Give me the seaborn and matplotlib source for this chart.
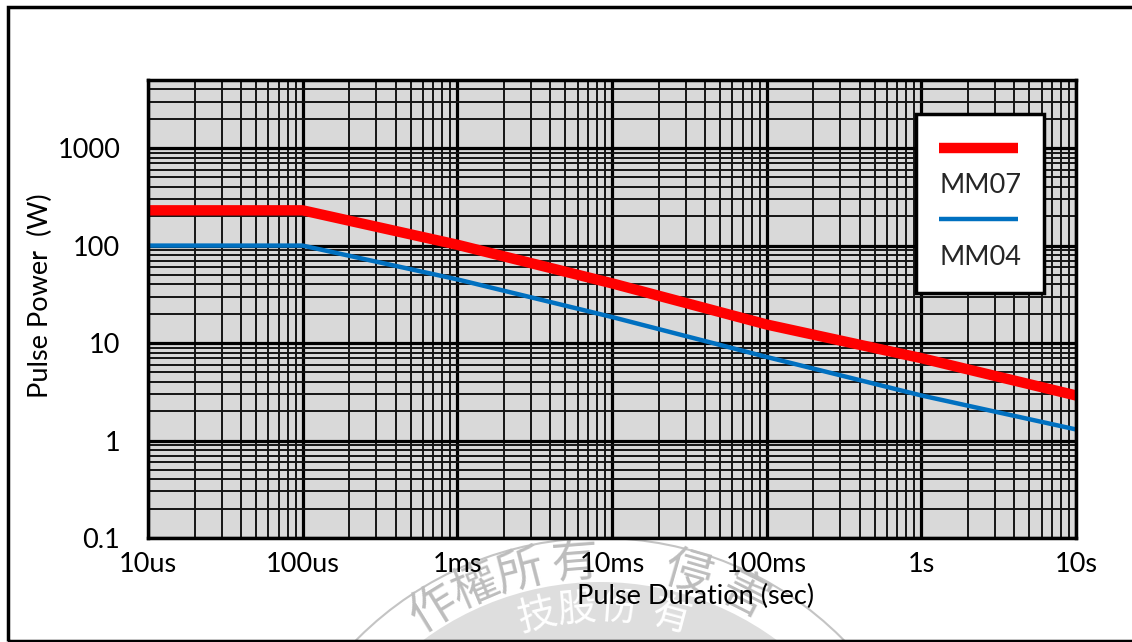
import matplotlib
matplotlib.use("Agg")
import matplotlib.pyplot as plt
import numpy as np
import pandas as pd
import seaborn as sns
from matplotlib.lines import Line2D
from matplotlib.patches import Circle, Rectangle
from matplotlib.ticker import LogLocator, NullFormatter
from matplotlib.transforms import IdentityTransform

# --- data ---
pulse_duration = [1e-5, 1e-4, 1e-3, 1e-2, 1e-1, 1, 10]
mm07_power = [230, 230, 102, 41, 15.5, 7.0, 2.9]
mm04_power = [100, 100, 45, 18.5, 7.2, 2.9, 1.3]

x_ticks = [1e-5, 1e-4, 1e-3, 1e-2, 1e-1, 1, 10]
x_tick_labels = ["10us", "100us", "1ms", "10ms", "100ms", "1s", "10s"]
y_ticks = [0.1, 1, 10, 100, 1000]
y_tick_labels = ["0.1", "1", "10", "100", "1000"]

# faint seal watermark under the x axis (characters + angle on the circle, deg)
seal_outer_chars = ["作", "權", "所", "有", "侵", "害"]
seal_outer_angles = [121.6, 113.0, 104.5, 94.5, 74, 63]
seal_inner_chars = ["技", "股", "份", "有"]
seal_inner_angles = [103.4, 95.0, 86, 75]

df = pd.DataFrame({
    "duration": pulse_duration * 2,
    "power": mm07_power + mm04_power,
    "series": ["MM07"] * len(pulse_duration) + ["MM04"] * len(pulse_duration),
})

sns.set_theme(style="white")
plt.rcParams["font.family"] = ["Lato", "DejaVu Sans"]

W, H = 1132, 642
fig = plt.figure(figsize=(W / 100, H / 100), dpi=100)
ax = fig.add_axes([148 / W, 1 - 538 / H, (1076 - 148) / W, (538 - 80) / H])
ax.set_facecolor("#d9d9d9")
ax.set_xscale("log")
ax.set_yscale("log")

sns.lineplot(data=df, x="duration", y="power", hue="series", size="series",
             palette={"MM07": "#ff0000", "MM04": "#0070c0"},
             sizes={"MM07": 7.5, "MM04": 3.2}, legend=False, ax=ax)

ax.set_xlim(1e-5, 10)
ax.set_ylim(0.1, 5000)
ax.set_xticks(x_ticks, x_tick_labels)
ax.set_yticks(y_ticks, y_tick_labels)
ax.xaxis.set_minor_locator(LogLocator(base=10, subs=np.arange(2, 10), numticks=100))
ax.yaxis.set_minor_locator(LogLocator(base=10, subs=np.arange(2, 10), numticks=100))
ax.xaxis.set_minor_formatter(NullFormatter())
ax.yaxis.set_minor_formatter(NullFormatter())

# excel style grid: heavy black decades, thinner black minor lines
ax.set_axisbelow(True)
ax.grid(which="major", color="black", linewidth=2.3)
ax.grid(which="minor", color="#151515", linewidth=1.4)
ax.tick_params(which="both", length=0)
ax.tick_params(axis="x", pad=10, labelsize=19.5, colors="black")
ax.tick_params(axis="y", pad=20, labelsize=19.5, colors="black")
for sp in ax.spines.values():
    sp.set_visible(True)
    sp.set_color("black")
    sp.set_linewidth(2.5)

ax.set_xlabel("Pulse Duration (sec)", fontsize=19.5, color="black")
ax.xaxis.set_label_coords((696 - 148) / 928, (538 - 584) / 458)
ax.set_ylabel("Pulse Power  (W)", fontsize=19.5, color="black")
ax.yaxis.set_label_coords((53 - 148) / 928, (538 - 296) / 458)

# legend: label sits under its line sample
handles = [Line2D([], [], color="#ff0000", lw=7.5, solid_capstyle="butt"),
           Line2D([], [], lw=0),
           Line2D([], [], color="#0070c0", lw=3.2, solid_capstyle="butt"),
           Line2D([], [], lw=0)]
labels = ["", "MM07", "", "MM04"]
leg = ax.legend(handles, labels, loc="upper left",
                bbox_to_anchor=((916 - 148) / 928, (538 - 114) / 458),
                borderaxespad=0, handlelength=2.9, handletextpad=-2.9,
                labelspacing=0.4, borderpad=0.85, fontsize=19.5,
                frameon=True, fancybox=False, framealpha=1,
                edgecolor="black", facecolor="white")
leg.get_frame().set_linewidth(2.5)

# watermark seal, drawn in pixel coordinates below the axes
px = IdentityTransform()
cx, cy = 600, H - 880
fig.add_artist(Circle((cx, cy), 342, transform=px, fill=False,
                      edgecolor="#c4c4c4", lw=1.5, zorder=-2))
fig.add_artist(Circle((cx, cy), 298, transform=px, facecolor="#dedede",
                      edgecolor="none", zorder=-2))
for ch, ang in zip(seal_outer_chars, seal_outer_angles):
    a = np.radians(ang)
    fig.text(cx + 318 * np.cos(a), cy + 318 * np.sin(a), ch, transform=px,
             rotation=ang - 90, rotation_mode="anchor", ha="center", va="center",
             fontsize=34, color="#bdbdbd", family=["Noto Sans CJK TC"], zorder=-1)
for ch, ang in zip(seal_inner_chars, seal_inner_angles):
    a = np.radians(ang)
    fig.text(cx + 272 * np.cos(a), cy + 272 * np.sin(a), ch, transform=px,
             rotation=ang - 90, rotation_mode="anchor", ha="center", va="center",
             fontsize=28, color="white", family=["Noto Sans CJK TC"], zorder=-1)

# outer frame of the picture
fig.add_artist(Rectangle((8, 1), 1400, H - 8, transform=px, fill=False,
                         edgecolor="black", lw=2.5, zorder=5))

fig.savefig("out.png", dpi=100)
